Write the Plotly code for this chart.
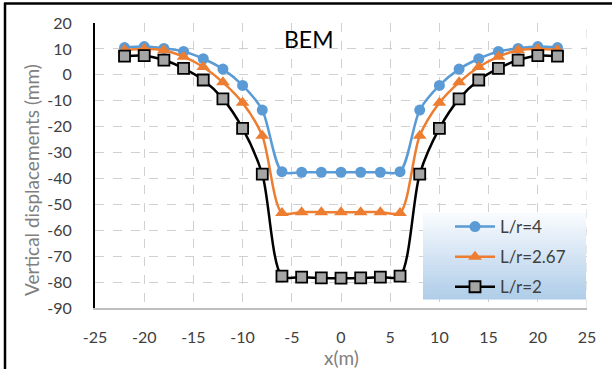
import plotly.graph_objects as go

# Distance from tunnel axis (m)
x_m = [-22, -20, -18, -16, -14, -12, -10, -8, -6, -4, -2, 0,
       2, 4, 6, 8, 10, 12, 14, 16, 18, 20, 22]

# Vertical displacements (mm) for each L/r ratio
disp_lr4 = [10.5, 10.9, 10.2, 9.0, 6.2, 2.2, -4.1, -13.6, -37.4, -37.6, -37.6, -37.6,
            -37.6, -37.6, -37.4, -13.6, -4.1, 2.2, 6.2, 9.0, 10.2, 10.9, 10.5]
disp_lr267 = [9.6, 10.0, 9.5, 7.0, 3.0, -2.9, -10.8, -23.5, -53.3, -53.0, -53.0, -53.0,
              -53.0, -53.0, -53.3, -23.5, -10.8, -2.9, 3.0, 7.0, 9.5, 10.0, 9.6]
disp_lr2 = [7.2, 7.4, 5.7, 2.5, -2.0, -9.3, -20.7, -38.3, -77.7, -78.1, -78.4, -78.5,
            -78.4, -78.1, -77.7, -38.3, -20.7, -9.3, -2.0, 2.5, 5.7, 7.4, 7.2]

series_names = ["L/r=4", "L/r=2.67", "L/r=2"]
x_ticks = [-25, -20, -15, -10, -5, 0, 5, 10, 15, 20, 25]
y_ticks = [20, 10, 0, -10, -20, -30, -40, -50, -60, -70, -80, -90]

FONT = "Lato, 'Open Sans', sans-serif"
W, H = 612, 369
L, R, T, B = 95, 25, 23, 61
PW, PH = W - L - R, H - T - B


def px_x(p):
    return (p - L) / PW


def px_y(p):
    return (H - B - p) / PH


fig = go.Figure()

fig.add_trace(go.Scatter(
    x=x_m, y=disp_lr4, name=series_names[0], mode="lines+markers",
    line=dict(color="#5B9BD5", width=2.5, shape="spline", smoothing=0.8),
    marker=dict(symbol="circle", size=11, color="#5B9BD5"),
    legendgroup="a"))
fig.add_trace(go.Scatter(
    x=x_m, y=disp_lr267, name=series_names[1], mode="lines+markers",
    line=dict(color="#ED7D31", width=2.5, shape="spline", smoothing=0.8),
    marker=dict(symbol="triangle-up", size=12, color="#ED7D31"),
    legendgroup="b"))
fig.add_trace(go.Scatter(
    x=x_m, y=disp_lr2, name=series_names[2], mode="lines+markers",
    line=dict(color="#000000", width=2.5, shape="spline", smoothing=0.8),
    marker=dict(symbol="square", size=11, color="#A5A5A5",
                line=dict(color="#000000", width=1.8)),
    legendgroup="c"))

shapes = []
# Legend panel with a vertical white-to-blue gradient
x0, x1 = px_x(423), px_x(586)
top, bot = 213, 299
n = 30
c0 = (248, 251, 254)
c1 = (176, 205, 233)
for i in range(n):
    t = i / (n - 1)
    c = tuple(round(c0[k] + (c1[k] - c0[k]) * t) for k in range(3))
    ya = top + (bot - top) * i / n
    yb = top + (bot - top) * (i + 1) / n
    shapes.append(dict(type="rect", xref="paper", yref="paper",
                       x0=x0, x1=x1, y0=px_y(yb + 0.5), y1=px_y(ya),
                       fillcolor="rgb(%d,%d,%d)" % c, line=dict(width=0),
                       layer="above"))
# Chart frame (top and left edges)
shapes.append(dict(type="line", xref="paper", yref="paper",
                   x0=px_x(4), x1=px_x(620), y0=px_y(3.5), y1=px_y(3.5),
                   line=dict(color="#000000", width=2.5)))
shapes.append(dict(type="line", xref="paper", yref="paper",
                   x0=px_x(5), x1=px_x(5), y0=px_y(3), y1=px_y(375),
                   line=dict(color="#000000", width=2.5)))

annotations = [
    dict(text="BEM", xref="paper", yref="paper", x=px_x(309), y=px_y(39),
         xanchor="center", yanchor="middle", showarrow=False,
         font=dict(family=FONT, size=23, color="#000000")),
    dict(text="Vertical displacements (mm)", xref="paper", yref="paper",
         x=px_x(32), y=px_y(180), xanchor="center", yanchor="middle",
         textangle=-90, showarrow=False,
         font=dict(family=FONT, size=19, color="#808080")),
    dict(text="x(m)", xref="paper", yref="paper", x=px_x(341), y=px_y(357),
         xanchor="center", yanchor="middle", showarrow=False,
         font=dict(family=FONT, size=19, color="#808080")),
]

fig.update_layout(
    width=W, height=H,
    margin=dict(l=L, r=R, t=T, b=B),
    paper_bgcolor="#FFFFFF", plot_bgcolor="#FFFFFF",
    font=dict(family=FONT, size=16, color="#404040"),
    showlegend=True,
    legend=dict(x=px_x(450), y=px_y(209), xanchor="left", yanchor="top",
                bgcolor="rgba(0,0,0,0)", borderwidth=0,
                font=dict(family=FONT, size=17, color="#404040"),
                traceorder="grouped", tracegroupgap=5, itemwidth=40),
    shapes=shapes,
    annotations=annotations,
)

fig.update_xaxes(
    range=[-25, 25], tickvals=x_ticks, ticktext=[str(v) for v in x_ticks],
    showgrid=True, gridcolor="#D0D0D0", griddash="dash", gridwidth=1,
    zeroline=False, showline=True, linecolor="#BFBFBF", linewidth=2,
    ticks="", ticklabelstandoff=14,
    tickfont=dict(family=FONT, size=16, color="#404040"))
fig.update_yaxes(
    range=[-90, 20], tickvals=y_ticks, ticktext=[str(v) for v in y_ticks],
    showgrid=True, gridcolor="#D0D0D0", griddash="dash", gridwidth=1,
    zeroline=False, showline=True, linecolor="#000000", linewidth=2,
    ticks="", ticklabelstandoff=18,
    tickfont=dict(family=FONT, size=16, color="#404040"))

# Right-hand vertical gridline at x=25
fig.add_shape(type="line", xref="x", yref="paper", x0=25, x1=25, y0=0, y1=1,
              line=dict(color="#D0D0D0", width=1, dash="dash"), layer="below")

fig.write_html("out.html")
